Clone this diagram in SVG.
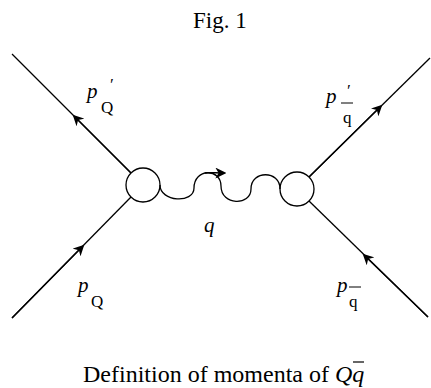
<svg xmlns="http://www.w3.org/2000/svg" width="431" height="388" viewBox="0 0 431 388">
<defs>
<style>
.l{stroke:#000;stroke-width:1.3;fill:none}
text{font-family:"Liberation Serif","Times New Roman",serif;fill:#000}
.t{font-size:21px}
.c{font-size:24px}
.i{font-style:italic}
.s{font-size:17px}
</style>
<marker id="a" viewBox="0 0 10 10" refX="7" refY="5" markerWidth="11" markerHeight="11" markerUnits="userSpaceOnUse" orient="auto">
<path d="M0,0 L10,5 L0,10 L3,5 Z" fill="#000"/>
</marker>
</defs>
<rect width="431" height="388" fill="#fff"/>
<text class="c" x="193" y="28" font-size="23" style="font-size:23px">Fig. 1</text>
<g id="connectors">
<path class="l" d="M12,54 L131,173"/>
<path class="l" d="M131,173 L75,117" marker-end="url(#a)"/>
<path class="l" d="M12,318 L131,197"/>
<path class="l" d="M12,318 L82,247" marker-end="url(#a)"/>
<path class="l" d="M309,177 L430,58"/>
<path class="l" d="M309,177 L380,107" marker-end="url(#a)"/>
<path class="l" d="M309,201 L428,317"/>
<path class="l" d="M428,317 L365,256" marker-end="url(#a)"/>
<path class="l" d="M160,185 C160,202 194,204 194,188 C194,168 221,168 221,186 C221,206 251,206 251,189 C251,170 280,170 280,189" stroke-width="1.1"/>
<path class="l" d="M205,173 C210,172 216,173 223,173" marker-end="url(#a)"/>
</g>
<g id="vertex-left"><circle class="l" cx="143" cy="185" r="17"/></g>
<g id="vertex-right"><circle class="l" cx="297" cy="189" r="17"/></g>
<g id="label-pQprime"><text class="t i" x="87" y="98">p</text><text class="s" x="101" y="113">Q</text><text class="s i" x="109" y="90">′</text></g>
<g id="label-pQ"><text class="t i" x="78" y="292">p</text><text class="s" x="91" y="307">Q</text></g>
<g id="label-pqbarprime"><text class="t i" x="326" y="103">p</text><text class="s" x="343" y="123">q</text><line x1="341" y1="103" x2="353" y2="103" stroke="#000" stroke-width="1"/><text class="s i" x="346" y="96">′</text></g>
<g id="label-q"><text class="t i" x="204" y="232">q</text></g>
<g id="label-pqbar"><text class="t i" x="337" y="292">p</text><text class="s" x="349" y="307">q</text><line x1="349" y1="287" x2="361" y2="287" stroke="#000" stroke-width="1"/></g>
<g id="caption"><text class="c" x="83" y="382">Definition of momenta of <tspan class="i">Qq</tspan></text><line x1="353" y1="362" x2="364" y2="362" stroke="#000" stroke-width="1.2"/></g>
</svg>
